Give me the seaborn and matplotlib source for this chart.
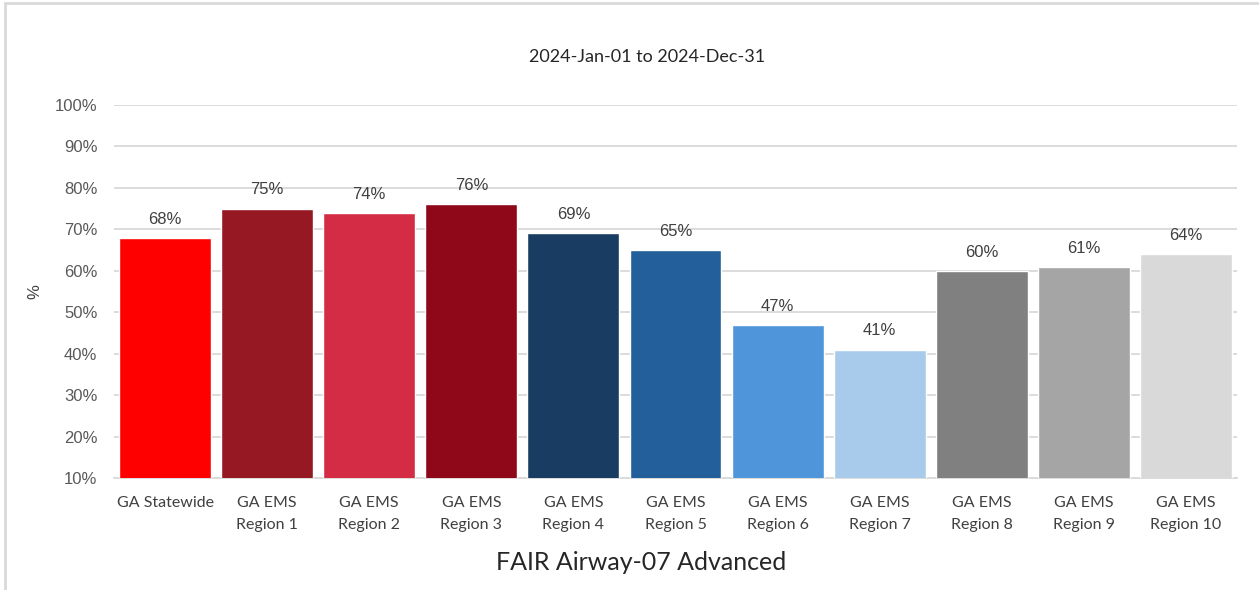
import matplotlib
matplotlib.use("Agg")
import matplotlib.pyplot as plt
import seaborn as sns
import pandas as pd
from matplotlib.ticker import PercentFormatter, MultipleLocator
from matplotlib.patches import Rectangle

categories = ["GA Statewide", "GA EMS\nRegion 1", "GA EMS\nRegion 2", "GA EMS\nRegion 3",
              "GA EMS\nRegion 4", "GA EMS\nRegion 5", "GA EMS\nRegion 6", "GA EMS\nRegion 7",
              "GA EMS\nRegion 8", "GA EMS\nRegion 9", "GA EMS\nRegion 10"]
values = [68, 75, 74, 76, 69, 65, 47, 41, 60, 61, 64]
colors = ["#FF0000", "#951823", "#D52C46", "#8E0819", "#193C62", "#235F9B",
          "#4F95DA", "#A8CBEC", "#808080", "#A5A5A5", "#D9D9D9"]

title = "2024-Jan-01 to 2024-Dec-31"
xlabel = "FAIR Airway-07 Advanced"

df = pd.DataFrame({"region": categories, "pct": values})

sns.set_theme(style="white")
plt.rcParams["font.family"] = ["Liberation Sans", "DejaVu Sans"]

W, H = 1259, 590
fig = plt.figure(figsize=(W / 100, H / 100), dpi=100)
ax = fig.add_axes([114 / W, 1 - 478 / H, 1123 / W, (478 - 105) / H])

sns.barplot(data=df, x="region", y="pct", hue="region", palette=colors,
            legend=False, width=0.9, saturation=1, ax=ax, zorder=3)

ax.set_ylim(10, 100)
ax.set_xlim(-0.5, len(categories) - 0.5)
ax.yaxis.set_major_locator(MultipleLocator(10))
ax.yaxis.set_major_formatter(PercentFormatter(decimals=0))
ax.grid(axis="y", color="#D9D9D9", linewidth=1.3, zorder=0)
ax.set_axisbelow(True)
for s in ["top", "right", "left"]:
    ax.spines[s].set_visible(False)
ax.spines["bottom"].set_color("#D9D9D9")
ax.spines["bottom"].set_linewidth(1.3)
ax.tick_params(axis="y", length=0, pad=12, labelsize=12, labelcolor="#595959")
ax.tick_params(axis="x", length=0, pad=13, labelsize=11.5, labelcolor="#404040")
for lab in ax.get_xticklabels():
    lab.set_family(["Lato", "DejaVu Sans"])
    lab.set_linespacing(1.75)

for cont in ax.containers:
    ax.bar_label(cont, labels=[f"{v:.0f}%" for v in cont.datavalues],
                 padding=8, fontsize=12, color="#404040")

ax.set_ylabel("%", fontsize=12, color="#404040", labelpad=9)
ax.set_xlabel("")
fig.text(641 / W, 1 - 563 / H, xlabel, ha="center", va="center", fontsize=18,
         color="#262626", family=["Lato", "DejaVu Sans"])
fig.text(647 / W, 1 - 57 / H, title, ha="center", va="center", fontsize=13,
         color="#262626", family=["Lato", "DejaVu Sans"])

# chart area border (Excel style)
fig.patches.append(Rectangle((5 / W, -0.05), 1.2, 1 - 3 / H + 0.05,
                             transform=fig.transFigure, fill=False,
                             edgecolor="#D9D9D9", linewidth=2))

fig.savefig("out.png", dpi=100)
